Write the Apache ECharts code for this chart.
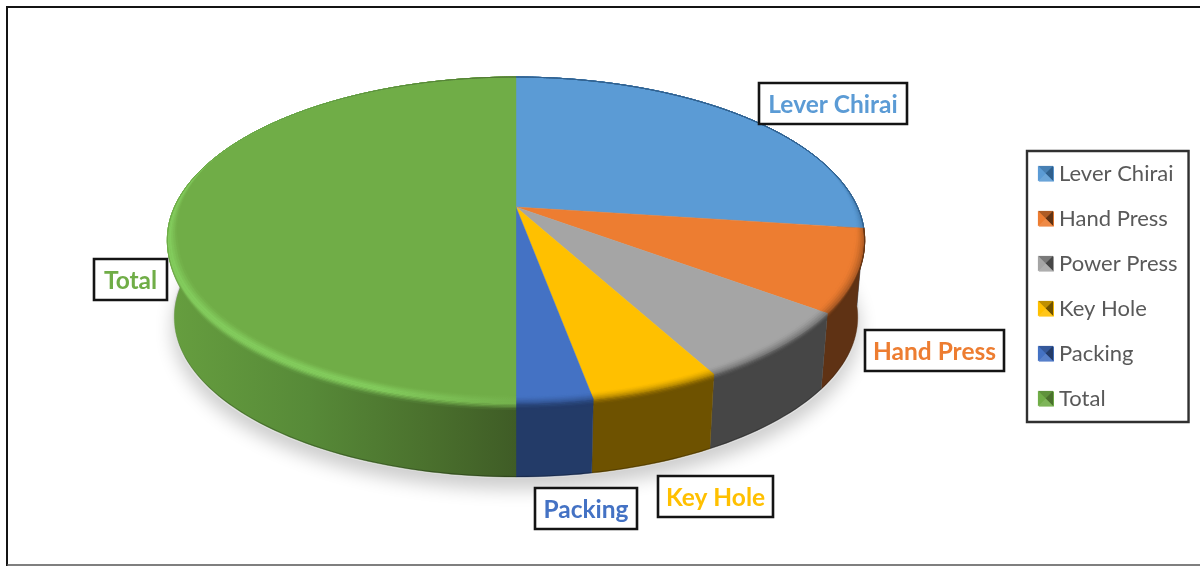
<!DOCTYPE html>
<html>
<head>
<meta charset="utf-8">
<style>html,body{margin:0;padding:0;background:#fff}#chart{width:1200px;height:566px}</style>
<script src="https://cdn.jsdelivr.net/npm/echarts@6/dist/echarts.min.js"></script>
</head>
<body>
<div id="chart"></div>
<script>
// Share of each operation, in percent of the whole disc
const categories = ['Lever Chirai', 'Hand Press', 'Power Press', 'Key Hole', 'Packing', 'Total'];
const shares = [27.1, 8.1, 6.9, 5.0, 2.9, 50.0];

const topColors = ['#5b9bd5', '#ed7d31', '#a5a5a5', '#ffc000', '#4472c4', '#70ad47'];
const wallColors = ['#2f5f8c', '#5f3214', '#464646', '#6e5200', '#233b68', '#4a702d'];

// Callout boxes: [left, top, right, bottom]; Power Press carries no callout
const calloutBoxes = [[759, 83, 907, 124], [865, 330, 1004, 371], null, [658, 476, 773, 517], [535, 488, 637, 529], [94, 259, 167, 300]];

// Projection of the tilted disc
const CX = 516, APEX_Y = 207, HALF_W = 341.5, HALF_D = 156.3, TILT = -0.2025;
const DEPTH = 78, TAPER = 0.02;
const WALL_FROM = 80, WALL_TO = 280;
const INSET = 0.03, BEVEL_DEPTH = 0.09;

const rad = d => d * Math.PI / 180;
const clamp = (v, a, b) => Math.max(a, Math.min(b, v));

function project(deg, r, d) {
  const X = r * Math.sin(rad(deg)), Y = -r * Math.cos(rad(deg));
  const w = 1 + TILT * Y, s = 1 - TAPER * d;
  return [CX + HALF_W * s * X / w, APEX_Y + DEPTH * d + HALF_D * s * Y / w];
}
function arc(a0, a1, fn) {
  const n = Math.max(2, Math.ceil(Math.abs(a1 - a0) / 1.5));
  const out = [];
  for (let i = 0; i <= n; i++) {
    const deg = a0 + (a1 - a0) * i / n;
    out.push(fn(deg));
  }
  return out;
}
function mix(c1, c2, t) {
  const p = c => [1, 3, 5].map(i => parseInt(c.substr(i, 2), 16));
  const a = p(c1), b = p(c2);
  return 'rgb(' + a.map((v, i) => Math.round(v + (b[i] - v) * t)).join(',') + ')';
}
// The bevel narrows towards the back of the disc; its outer roll only shows in front
const insetWeight = deg => clamp((-Math.cos(rad(deg)) + 0.35) / 0.6, 0, 1);
const rollWeight = deg => clamp((-Math.cos(rad(deg)) - 0.1) / 0.5, 0, 1);

const sweep = shares.reduce((s, v) => s + v, 0);
const starts = [];
shares.reduce((acc, v, i) => { starts[i] = acc; return acc + v; }, 0);

const GREEN = categories.length - 1;
function wallGradient() {
  return new echarts.graphic.LinearGradient(170, 0, 516, 0, [
    { offset: 0, color: '#669e3f' }, { offset: 0.4, color: '#578a38' },
    { offset: 0.75, color: '#4a702d' }, { offset: 1, color: '#3f5c26' }
  ], true);
}

function renderSlice(i) {
  return function (params, api) {
    const a0 = starts[i] / sweep * 360;
    const a1 = a0 + api.value(0) / sweep * 360;
    const top = topColors[i], wall = wallColors[i];
    const children = [];

    // Soft ground shadow, laid once under the disc
    if (i === 0) {
      children.push({
        type: 'polygon', z2: 0,
        shape: { points: arc(0, 360, a => project(a, 1.005, 1)) },
        style: { fill: '#e2e2e2', shadowColor: 'rgba(0,0,0,0.2)', shadowBlur: 18, shadowOffsetY: 11 }
      });
    }

    // Outer wall
    const w0 = Math.max(a0, WALL_FROM), w1 = Math.min(a1, WALL_TO);
    if (w1 > w0) {
      const pts = arc(w0, w1, a => project(a, 1, 0)).concat(arc(w1, w0, a => project(a, 1, 1)));
      const fill = i === GREEN ? wallGradient() : wall;
      children.push({ type: 'polygon', z2: 1, shape: { points: pts }, style: { fill, stroke: fill, lineWidth: 0.4 } });
      // Dark seam along the base
      const seam = arc(w0, w1, a => project(a, 1, 0.985)).concat(arc(w1, w0, a => project(a, 1, 1)));
      children.push({ type: 'polygon', z2: 1, shape: { points: seam }, style: { fill: 'rgba(0,0,0,0.25)' } });
    }

    // Flat top face
    children.push({
      type: 'polygon', z2: 2,
      shape: { points: [project(0, 0, 0)].concat(arc(a0, a1, a => project(a, 1, 0))) },
      style: { fill: top, stroke: top, lineWidth: 0.4 }
    });

    // Rounded rim, built up from thin rings
    const STEPS = 10;
    const ring = u => {
      if (u <= 0.5) return a => project(a, 1 - INSET * insetWeight(a) * (1 - u * 2), 0);
      return a => project(a, 1, BEVEL_DEPTH * rollWeight(a) * (u * 2 - 1));
    };
    for (let s = 0; s < STEPS; s++) {
      const u0 = s / STEPS, u1 = (s + 1) / STEPS, um = (u0 + u1) / 2;
      let fill;
      if (i === GREEN) {
        const peakL = '#82cb5c', peakR = '#74b14c';
        if (um < 0.6) {
          const t = clamp(um / 0.35, 0, 1);
          fill = new echarts.graphic.LinearGradient(170, 0, 516, 0, [
            { offset: 0, color: mix(top, peakL, t) }, { offset: 0.6, color: mix(top, peakL, t) }, { offset: 1, color: mix(top, peakR, t) }
          ], true);
        } else {
          const t = (um - 0.6) / 0.4;
          fill = new echarts.graphic.LinearGradient(170, 0, 516, 0, [
            { offset: 0, color: mix(peakL, '#669e3f', t) }, { offset: 0.4, color: mix(peakL, '#578a38', t) },
            { offset: 1, color: mix(peakR, '#3f5c26', t) }
          ], true);
        }
      } else {
        fill = mix(top, wall, um * um * (3 - 2 * um));
      }
      const pts = arc(a0, a1, ring(u0)).concat(arc(a1, a0, ring(u1)));
      children.push({ type: 'polygon', z2: 3, shape: { points: pts }, style: { fill, stroke: fill, lineWidth: 0.4 } });
    }

    // Callout box with the category name
    const b = calloutBoxes[i];
    if (b) {
      children.push({
        type: 'rect', z2: 5,
        shape: { x: b[0], y: b[1], width: b[2] - b[0], height: b[3] - b[1] },
        style: { fill: '#fff', stroke: '#141414', lineWidth: 2.6 }
      });
      children.push({
        type: 'text', z2: 6,
        style: {
          text: categories[i], x: (b[0] + b[2]) / 2, y: (b[1] + b[3]) / 2 + 2,
          align: 'center', verticalAlign: 'middle', fill: top,
          font: 'bold 24.5px Lato, "Open Sans", sans-serif'
        }
      });
    }

    // Faceted legend key
    const kx = 1038, ky = 166 + 45 * i, k = 15, c = [kx + k / 2, ky + k / 2];
    const tri = (p, q, col) => ({ type: 'polygon', z2: 7, shape: { points: [p, q, c] }, style: { fill: col, stroke: col, lineWidth: 0.2 } });
    children.push(tri([kx, ky], [kx + k, ky], mix(top, wall, 0.45)));
    children.push(tri([kx + k, ky], [kx + k, ky + k], wall));
    children.push(tri([kx + k, ky + k], [kx, ky + k], mix(top, '#ffffff', 0.1)));
    children.push(tri([kx, ky + k], [kx, ky], top));

    return { type: 'group', children };
  };
}

const chart = echarts.init(document.getElementById('chart'), null, { renderer: 'canvas' });
chart.setOption({
  animation: false,
  backgroundColor: '#ffffff',
  legend: {
    orient: 'vertical', left: 1027, top: 151,
    data: categories,
    icon: 'rect', itemWidth: 15, itemHeight: 15, itemGap: 23,
    padding: [12, 11, 12, 12],
    borderColor: '#303030', borderWidth: 2.4, borderRadius: 0,
    selectedMode: false,
    textStyle: { color: '#595959', fontSize: 22, lineHeight: 22, fontFamily: 'Lato, "Open Sans", sans-serif' }
  },
  graphic: [
    { type: 'line', silent: true, shape: { x1: 7, y1: 7, x2: 1200, y2: 7 }, style: { stroke: '#141414', lineWidth: 2 } },
    { type: 'line', silent: true, shape: { x1: 7, y1: 6, x2: 7, y2: 566 }, style: { stroke: '#141414', lineWidth: 2 } },
    { type: 'line', silent: true, shape: { x1: 7, y1: 565, x2: 1200, y2: 565 }, style: { stroke: '#555555', lineWidth: 1.5 } }
  ],
  series: categories.map((name, i) => ({
    type: 'custom', name, coordinateSystem: 'none', z: 5, silent: true,
    itemStyle: { color: topColors[i] },
    data: [[shares[i]]],
    renderItem: renderSlice(i)
  }))
});
</script>
</body>
</html>
